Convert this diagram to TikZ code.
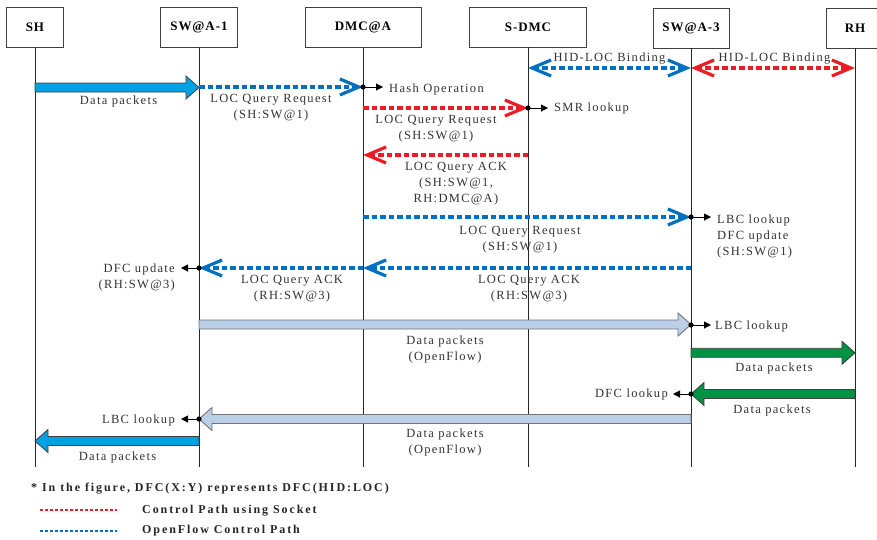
\documentclass[tikz,border=0pt]{standalone}
\usepackage{fontspec}
\setmainfont{Liberation Serif}
\newfontfamily\lblfont[LetterSpace=10.5]{Liberation Serif}
\newfontfamily\hdrfont[LetterSpace=7]{Liberation Serif}
\newfontfamily\legfont[LetterSpace=16]{Liberation Serif}
\usetikzlibrary{arrows.meta}

\definecolor{ofblue}{RGB}{0,112,192}
\definecolor{skred}{RGB}{236,28,36}
\definecolor{pktblue}{RGB}{0,161,226}
\definecolor{ofpkt}{RGB}{188,207,232}
\definecolor{pktgreen}{RGB}{0,146,69}
\definecolor{edge}{RGB}{64,64,64}

% thick block arrow: style, tail x, tip x, centre y
\newcommand\fatarrow[4]{%
  \pgfmathsetmacro\hbx{#3+((#3>#2)?-13:13)}%
  \draw[#1] (#2,#4-4.5) -- (\hbx,#4-4.5) -- (\hbx,#4-11.5) -- (#3,#4)
    -- (\hbx,#4+11.5) -- (\hbx,#4+4.5) -- (#2,#4+4.5) -- cycle;}

\begin{document}
\begin{tikzpicture}[x=1pt,y=-1pt,
  hdr/.style={draw=edge, line width=0.9pt, minimum height=40pt, inner sep=0pt,
    font=\hdrfont\bfseries\fontsize{13}{15}\selectfont},
  life/.style={draw=black!85, line width=0.9pt},
  ctl/.style={line width=3.1pt, dash pattern=on 5.5pt off 3pt},
  barb/.tip={Straight Barb[length=19pt,width=16pt,line width=3.2pt]},
  ofc/.style={ctl, draw=ofblue},
  sock/.style={ctl, draw=skred},
  note/.style={line width=1pt, -{Triangle[length=7pt,width=7pt]}},
  lbl/.style={inner sep=0pt, align=center, text=black!80,
    font=\lblfont\fontsize{12.5}{16}\selectfont},
  leg/.style={inner sep=0pt, anchor=west, text=black!85,
    font=\legfont\bfseries\fontsize{12}{14}\selectfont},
  bluepkt/.style={fill=pktblue, draw=edge, line width=0.8pt},
  greenpkt/.style={fill=pktgreen, draw=edge, line width=0.8pt},
  ofpktsty/.style={fill=ofpkt, draw=black!55, line width=0.9pt},
]
\fill[white] (0,0) rectangle (877,539);
\useasboundingbox (0,0) rectangle (877,539);

% participants
\node[hdr, minimum width=57pt]  (SH)   at (35,27)  {SH};
\node[hdr, minimum width=77pt]  (SW1)  at (199,27) {SW@A-1};
\node[hdr, minimum width=116pt] (DMC)  at (363,27) {DMC@A};
\node[hdr, minimum width=117pt] (SDMC) at (528,27) {S-DMC};
\node[hdr, minimum width=76pt]  (SW3)  at (691,28) {SW@A-3};
\node[hdr, minimum width=58pt]  (RH)   at (855,28) {RH};

% lifelines
\foreach \p in {SH,SW1,DMC,SDMC,SW3,RH}
  \draw[life] (\p.south) -- (\p |- 0,467);

% HID-LOC bindings
\draw[ofc, barb-barb]  (SDMC |- 0,68) -- (SW3 |- 0,68);
\draw[sock, barb-barb] (SW3 |- 0,68) -- (RH |- 0,68);
\node[lbl] (bindA) at (609.5,58.5) {HID-LOC Binding};
\node[lbl] (bindB) at (774.5,58.5) {HID-LOC Binding};

% data from SH
\fatarrow{bluepkt}{35}{199}{87.5}
\node[lbl] (dp1) at (118.5,101.5) {Data packets};

% query towards DMC@A
\draw[ofc, -barb] (SW1 |- 0,87) -- (DMC |- 0,87);
\node[lbl] (q1) at (271,108) {LOC Query Request\\(SH:SW@1)};
\fill (DMC |- 0,87) circle (2.6pt);
\draw[note] (DMC |- 0,87) -- ++(20,0);
\node[lbl, anchor=west] (hash) at (389,89) {Hash Operation};

% query towards S-DMC
\draw[sock, -barb] (DMC |- 0,108) -- (SDMC |- 0,108);
\node[lbl] (q2) at (436,129) {LOC Query Request\\(SH:SW@1)};
\fill (SDMC |- 0,108) circle (2.6pt);
\draw[note] (SDMC |- 0,108) -- ++(20,0);
\node[lbl, anchor=west] (smr) at (554,108.5) {SMR lookup};

% ACK back to DMC@A
\draw[sock, -barb] (SDMC |- 0,155) -- (DMC |- 0,155);
\node[lbl] (a1) at (456,184) {LOC Query ACK\\(SH:SW@1,\\RH:DMC@A)};

% query towards SW@A-3
\draw[ofc, -barb] (DMC |- 0,217) -- (SW3 |- 0,217);
\node[lbl] (q3) at (520,240) {LOC Query Request\\(SH:SW@1)};
\fill (SW3 |- 0,217) circle (2.6pt);
\draw[note] (SW3 |- 0,217) -- ++(20,0);
\node[lbl, anchor=west, align=left] (lbc1) at (717,236.5) {LBC lookup\\DFC update\\(SH:SW@1)};

% ACK back to SW@A-1
\draw[ofc, -barb] (SW3 |- 0,268) -- (DMC |- 0,268);
\draw[ofc, -barb] (DMC |- 0,268) -- (SW1 |- 0,268);
\node[lbl] (a2) at (529,289) {LOC Query ACK\\(RH:SW@3)};
\node[lbl] (a3) at (292,289) {LOC Query ACK\\(RH:SW@3)};
\fill (SW1 |- 0,268) circle (2.6pt);
\draw[note] (SW1 |- 0,268) -- ++(-18,0);
\node[lbl, anchor=east, align=right] (dfc1) at (175,277) {DFC update\\(RH:SW@3)};

% OpenFlow data towards SW@A-3
\fatarrow{ofpktsty}{199}{691}{324.5}
\node[lbl] (dp2) at (445,349) {Data packets\\(OpenFlow)};
\fill (SW3 |- 0,325) circle (2.6pt);
\draw[note] (SW3 |- 0,325) -- ++(20,0);
\node[lbl, anchor=west] (lbc2) at (715,326) {LBC lookup};

% data between SW@A-3 and RH
\fatarrow{greenpkt}{691}{855}{352.8}
\node[lbl] (dp3) at (774,368) {Data packets};
\fatarrow{greenpkt}{855}{691}{394}
\node[lbl] (dp4) at (772,410) {Data packets};
\fill (SW3 |- 0,394) circle (2.6pt);
\draw[note] (SW3 |- 0,394) -- ++(-18,0);
\node[lbl, anchor=east] (dfc2) at (668,394) {DFC lookup};

% OpenFlow data back to SW@A-1
\fatarrow{ofpktsty}{691}{199}{419}
\node[lbl] (dp5) at (445,442.5) {Data packets\\(OpenFlow)};
\fill (SW1 |- 0,419) circle (2.6pt);
\draw[note] (SW1 |- 0,419) -- ++(-18,0);
\node[lbl, anchor=east] (lbc3) at (175,420) {LBC lookup};

% data delivered to SH
\fatarrow{bluepkt}{199}{35}{441}
\node[lbl] (dp6) at (117.5,457) {Data packets};

% legend
\node[leg] (legnote) at (31,488.5) {* In the figure, DFC(X:Y) represents DFC(HID:LOC)};
\coordinate (lr1) at (40,510);  \coordinate (lr2) at (117,510);
\coordinate (lb1) at (40,531);  \coordinate (lb2) at (117,531);
\draw[skred, line width=1.3pt, dash pattern=on 3pt off 2pt] (lr1) -- (lr2);
\draw[ofblue, line width=1.3pt, dash pattern=on 3pt off 2pt] (lb1) -- (lb2);
\node[leg] (legsock) at (142,511) {Control Path using Socket};
\node[leg] (legof)   at (142,531) {OpenFlow Control Path};
\end{tikzpicture}
\end{document}
